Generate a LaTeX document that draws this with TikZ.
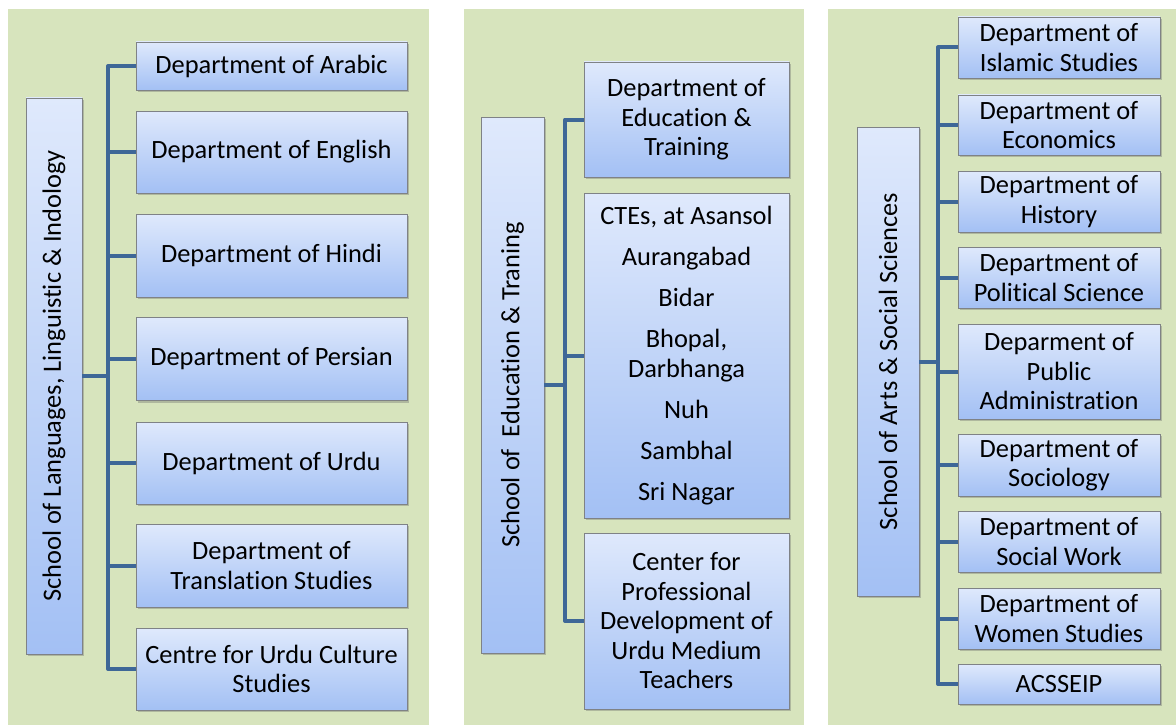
\documentclass[tikz,border=0pt]{standalone}
\usepackage{fontspec}
\setmainfont{Carlito}[Ligatures={NoCommon}]
\usepackage{graphicx}
\usetikzlibrary{shadows}
\definecolor{panel}{HTML}{D7E4BD}
\definecolor{boxtop}{HTML}{DFE9FC}
\definecolor{boxbot}{HTML}{A3C0F4}
\definecolor{boxline}{HTML}{7F8286}
\definecolor{conn}{HTML}{3E6797}
\begin{document}
\begin{tikzpicture}[x=1pt,y=-1pt,
  unit/.style={draw=boxline, line width=0.9pt, top color=boxtop, bottom color=boxbot,
    drop shadow={shadow xshift=1.5pt, shadow yshift=-2pt, opacity=0.35, fill=black!60},
    align=center, font=\fontsize{26.4}{29.5}\selectfont, inner sep=0pt, text=black},
  link/.style={draw=conn, line width=4pt, line join=round},
  ]
\useasboundingbox (0,0) rectangle (1176,725);
\fill[white] (0,0) rectangle (1176,725);
\fill[panel] (8,9) rectangle (429,725);
\fill[panel] (464,9) rectangle (804,725);
\fill[panel] (828,9) rectangle (1176,725);

% ---------- Panel 1 ----------
\node[unit, minimum width=56, minimum height=556] (s1) at (54,376)
  {\rotatebox{90}{School of Languages, Linguistic \& Indology}};
\node[unit, minimum width=271, minimum height=48] (d11) at (271.5,66) {Department of Arabic};
\node[unit, minimum width=271, minimum height=82] (d12) at (271.5,152) {Department of English};
\node[unit, minimum width=271, minimum height=83] (d13) at (271.5,255.5) {Department of Hindi};
\node[unit, minimum width=271, minimum height=83] (d14) at (271.5,359) {Department of Persian};
\node[unit, minimum width=271, minimum height=82] (d15) at (271.5,463) {Department of Urdu};
\node[unit, minimum width=271, minimum height=83] (d16) at (271.5,565.5) {Department of\\Translation Studies};
\node[unit, minimum width=271, minimum height=82] (d17) at (271.5,669) {Centre for Urdu Culture\\Studies};
\coordinate (b1) at (108,376);
\draw[link] (s1.east) -- (b1);
\draw[link] (d11.west) -- (d11.west -| b1) -- (d17.west -| b1) -- (d17.west);
\foreach \n in {d12,d13,d14,d15,d16} \draw[link] (\n.west -| b1) -- (\n.west);

% ---------- Panel 2 ----------
\node[unit, minimum width=63, minimum height=536] (s2) at (512.5,385)
  {\rotatebox{90}{School of\ \ Education \& Traning}};
\node[unit, minimum width=205, minimum height=115] (d21) at (686.5,119.5)
  {Department of\\Education \&\\Training};
\node[unit, minimum width=205, minimum height=325] (d22) at (686.5,355.5)
  {CTEs, at Asansol\\[11.5pt]Aurangabad\\[11.5pt]Bidar\\[11.5pt]Bhopal,\\Darbhanga\\[11.5pt]Nuh\\[11.5pt]Sambhal\\[11.5pt]Sri Nagar};
\node[unit, minimum width=205, minimum height=176] (d23) at (686.5,621)
  {Center for\\Professional\\Development of\\Urdu Medium\\Teachers};
\coordinate (b2) at (565,385);
\draw[link] (s2.east) -- (b2);
\draw[link] (d21.west) -- (d21.west -| b2) -- (d23.west -| b2) -- (d23.west);
\draw[link] (d22.west -| b2) -- (d22.west);

% ---------- Panel 3 ----------
\node[unit, minimum width=62, minimum height=469] (s3) at (888,361.5)
  {\rotatebox{90}{School of Arts \& Social Sciences}};
\node[unit, minimum width=202, minimum height=61] (d31) at (1059,47.5) {Department of\\Islamic Studies};
\node[unit, minimum width=202, minimum height=60] (d32) at (1059,125) {Department of\\Economics};
\node[unit, minimum width=202, minimum height=61] (d33) at (1059,201.5) {Department of\\History};
\node[unit, minimum width=202, minimum height=61] (d34) at (1059,277.5) {Department of\\Political Science};
\node[unit, minimum width=202, minimum height=95] (d35) at (1059,371.5) {Deparment of\\Public\\Administration};
\node[unit, minimum width=202, minimum height=62] (d36) at (1059,465) {Department of\\Sociology};
\node[unit, minimum width=202, minimum height=61] (d37) at (1059,541.5) {Department of\\Social Work};
\node[unit, minimum width=202, minimum height=61] (d38) at (1059,618.5) {Department of\\Women Studies};
\node[unit, minimum width=202, minimum height=40] (d39) at (1059,684) {ACSSEIP};
\coordinate (b3) at (938,361.5);
\draw[link] (s3.east) -- (b3);
\draw[link] (d31.west) -- (d31.west -| b3) -- (d39.west -| b3) -- (d39.west);
\foreach \n in {d32,d33,d34,d35,d36,d37,d38} \draw[link] (\n.west -| b3) -- (\n.west);
\end{tikzpicture}
\end{document}
